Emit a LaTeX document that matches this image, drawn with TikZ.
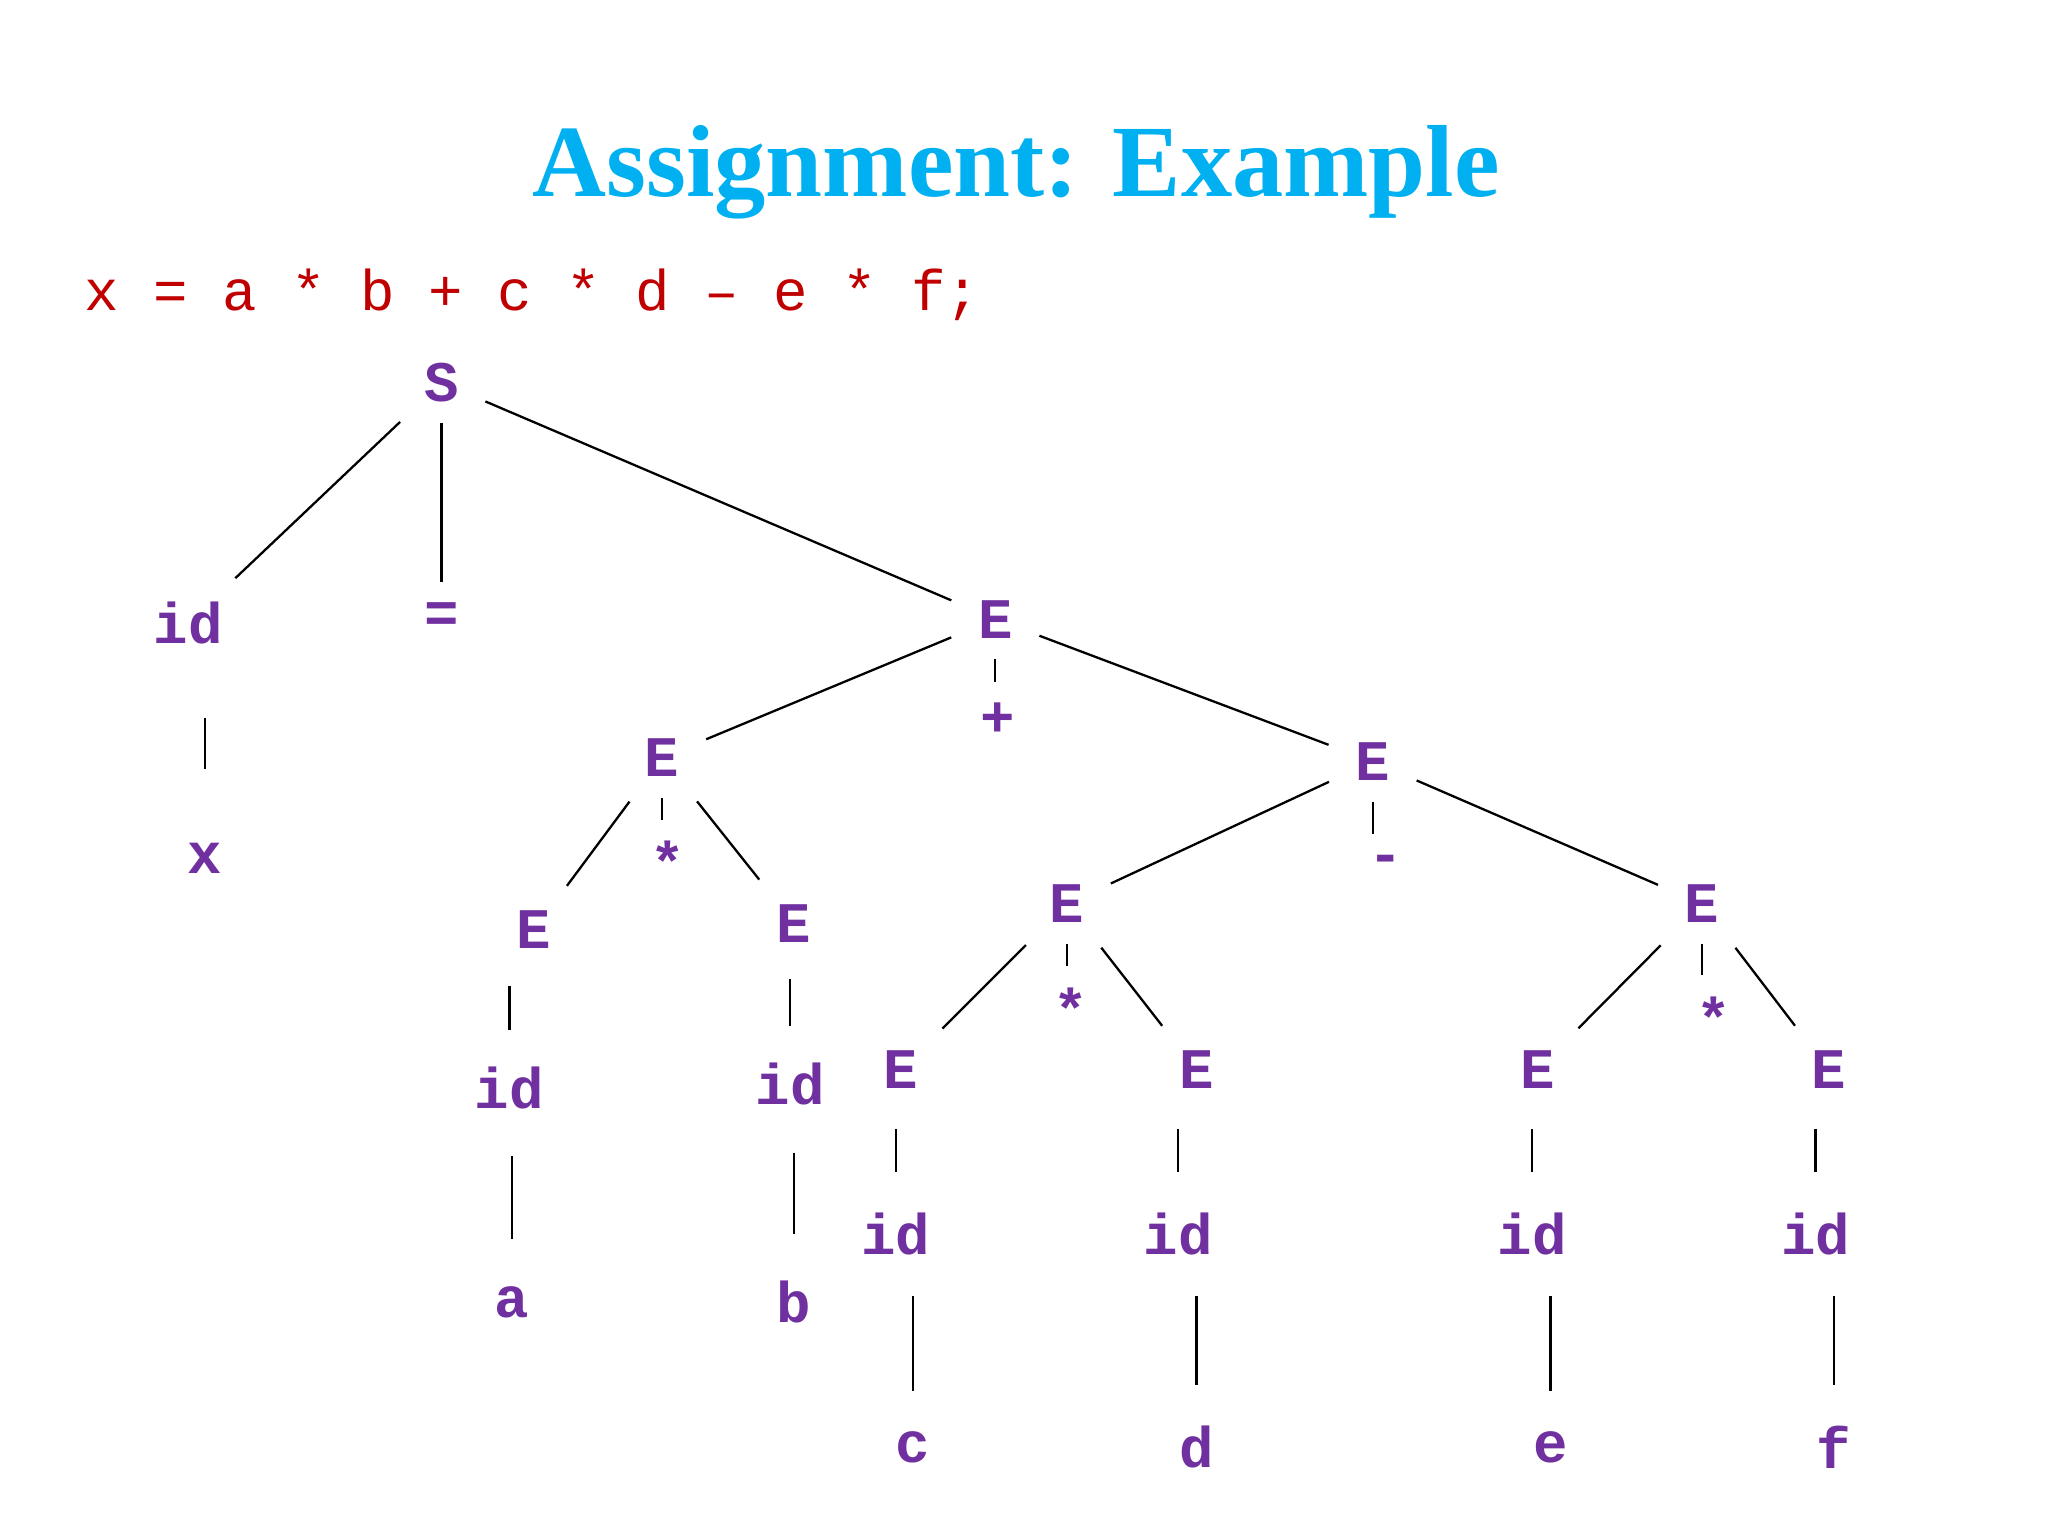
\documentclass[tikz,border=0pt]{standalone}
\usepackage{fontspec}
\setmainfont{Liberation Serif}
\newfontfamily\cour{Liberation Mono}
\definecolor{tpurple}{HTML}{7030A0}
\definecolor{tred}{HTML}{C00000}
\definecolor{tcyan}{HTML}{00B0F0}
\begin{document}
\begin{tikzpicture}[x=0.01cm,y=-0.01cm,
  t/.style={font=\cour\bfseries\fontsize{12.5}{14}\selectfont,text=tpurple,inner sep=3pt},
  e/.style={black,line width=0.5pt,shorten <=0.1cm,shorten >=0.1cm},
  v/.style={black,line width=0.5pt,shorten <=#1,shorten >=#1}]
\useasboundingbox (0,0) rectangle (1568,1176);
\node[font=\bfseries\fontsize{22.3}{26}\selectfont,text=tcyan] (title) at (778,132) {Assignment: Example};
\node[font=\cour\fontsize{12.5}{14}\selectfont,text=tred,anchor=west,inner sep=0] (code) at (64,226) {x = a * b + c * d – e * f;};
\node[t] (S) at (338,293) {S};
\node[t] (id1) at (144,477) {id};
\node[t] (eq) at (338,473) {=};
\node[t] (E1) at (762,474) {E};
\node[t] (x) at (157,657) {x};
\node[t] (E2) at (507,580) {E};
\node[t] (plus) at (764,551) {+};
\node[t] (E3) at (1051,583) {E};
\node[t] (E4) at (409,712) {E};
\node[t] (s1) at (511,660) {*};
\node[t] (E5) at (608,707) {E};
\node[t] (ida) at (390,833) {id};
\node[t] (idb) at (605,830) {id};
\node[t] (a) at (392,997) {a};
\node[t] (b) at (608,997) {b};
\node[t] (E6) at (817,692) {E};
\node[t] (minus) at (1061,662) {-};
\node[t] (E7) at (1303,692) {E};
\node[t] (E8) at (690,819) {E};
\node[t] (s2) at (820,772) {*};
\node[t] (E9) at (916,819) {E};
\node[t] (E10) at (1177,819) {E};
\node[t] (s3) at (1312,779) {*};
\node[t] (E11) at (1400,819) {E};
\node[t] (idc) at (686,945) {id};
\node[t] (idd) at (902,945) {id};
\node[t] (ide) at (1173,945) {id};
\node[t] (idf) at (1390,945) {id};
\node[t] (c) at (699,1108) {c};
\node[t] (d) at (916,1108) {d};
\node[t] (ee) at (1187,1108) {e};
\node[t] (f) at (1404,1108) {f};
% diagonal connectors
\foreach \p/\c in {S/id1,S/E1,E1/E2,E1/E3,E2/E4,E2/E5,E3/E6,E3/E7,E6/E8,E6/E9,E7/E10,E7/E11}
  \draw[e] (\p) -- (\c);
\draw[v=0.05cm] (S.south) -- (eq.north);
% short middle connectors
\foreach \p/\c in {E1/plus,E2/s1,E3/minus,E6/s2,E7/s3}
  \draw[v=0.05cm] (\p.south -| \p.center) -- (\p.center |- \c.north);
% vertical connectors
\foreach \p/\c/\s in {id1/x/0.45cm,E4/ida/0.17cm,ida/a/0.25cm,E5/idb/0.17cm,idb/b/0.25cm,
  E8/idc/0.2cm,idc/c/0.2cm,E9/idd/0.2cm,idd/d/0.2cm,E10/ide/0.2cm,ide/ee/0.2cm,E11/idf/0.2cm,idf/f/0.2cm}
  \draw[v=\s] (\p.south -| \c.center) -- (\c.north);
\end{tikzpicture}
\end{document}
